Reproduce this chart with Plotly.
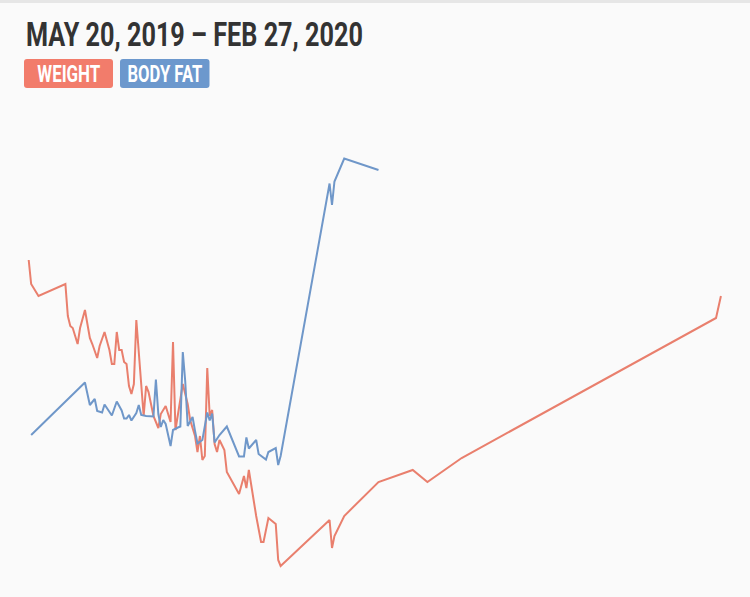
import pandas as pd
import plotly.graph_objects as go

START = "2019-05-20"
TITLE = "MAY 20, 2019 – FEB 27, 2020"
SERIES_NAMES = ["WEIGHT", "BODY FAT"]

# days since May 20, 2019
weight_days = [0, 1, 4, 15, 16, 17, 18, 20, 21, 23, 25, 26, 28, 29, 31, 33, 34, 35, 36, 37,
               38, 39, 40, 41, 42, 43, 44, 45, 47, 48, 49, 51, 53, 54, 56, 58, 59, 60, 61, 63,
               65, 66, 67, 68, 69, 70, 71, 72, 73, 74, 75, 76, 77, 78, 80, 81, 86, 88, 89, 90,
               93, 95, 96, 98, 101, 102, 103, 123, 124, 125, 129, 143, 157, 163, 177, 281, 283]
weight_lbs = [183.0, 181.8, 181.2, 181.8, 180.2, 179.7, 179.6, 178.8, 179.6, 180.5, 179.1, 178.8,
              178.1, 178.7, 179.4, 178.5, 177.8, 177.8, 179.4, 178.5, 178.5, 177.9, 177.8, 176.7,
              176.3, 176.8, 180.0, 178.4, 175.2, 176.7, 176.4, 175.2, 174.6, 175.3, 175.7, 174.9,
              178.9, 174.5, 175.2, 176.8, 175.8, 175.0, 174.6, 174.2, 173.4, 174.2, 173.0, 173.2,
              177.6, 175.2, 175.5, 173.8, 173.4, 174.0, 173.5, 172.4, 171.3, 172.2, 171.6, 172.5,
              170.2, 168.9, 168.9, 170.1, 169.8, 168.0, 167.7, 170.0, 168.6, 169.2, 170.2, 171.9,
              172.5, 171.9, 173.1, 180.1, 181.2]

bodyfat_days = [1, 23, 25, 27, 28, 30, 31, 34, 36, 38, 39, 40, 41, 42, 44, 45, 46, 48, 51, 52,
                53, 54, 55, 56, 58, 59, 61, 62, 63, 64, 65, 66, 67, 68, 69, 71, 73, 74, 75, 76,
                78, 81, 84, 86, 88, 89, 90, 93, 94, 97, 98, 101, 102, 103, 123, 124, 125, 129, 143]
bodyfat_pct = [16.46, 17.51, 17.06, 17.18, 16.94, 16.91, 17.07, 16.85, 17.13, 16.95, 16.79, 16.79,
               16.86, 16.75, 16.90, 17.06, 16.86, 16.84, 16.83, 17.57, 16.88, 16.62, 16.76, 16.68,
               16.24, 16.56, 16.61, 16.63, 18.12, 17.53, 16.64, 16.72, 16.82, 16.54, 16.29, 16.36,
               16.91, 16.75, 16.89, 16.31, 16.46, 16.63, 16.29, 16.03, 16.03, 16.41, 16.19, 16.36,
               16.08, 15.97, 16.12, 16.20, 15.86, 16.04, 21.49, 21.06, 21.53, 21.99, 21.76]

WEIGHT_LINE = "#e97f6d"
FAT_LINE = "#6f97c9"
WEIGHT_BADGE = "#f27c6b"
FAT_BADGE = "#6c98cd"
FONT = "Roboto, DejaVu Sans, sans-serif"

start = pd.Timestamp(START)
w_dates = start + pd.to_timedelta(weight_days, unit="D")
f_dates = start + pd.to_timedelta(bodyfat_days, unit="D")

W, H = 750, 597
fig = go.Figure()
fig.add_trace(go.Scatter(x=w_dates, y=weight_lbs, mode="lines", name=SERIES_NAMES[0],
                         line=dict(color=WEIGHT_LINE, width=2), hoverinfo="skip"))
fig.add_trace(go.Scatter(x=f_dates, y=bodyfat_pct, mode="lines", name=SERIES_NAMES[1],
                         yaxis="y2", line=dict(color=FAT_LINE, width=2), hoverinfo="skip"))

px_per_day = 2.446
x0 = start - pd.Timedelta(days=28.7 / px_per_day)
x1 = start + pd.Timedelta(days=(W - 28.7) / px_per_day)

fig.update_layout(
    width=W, height=H,
    margin=dict(l=0, r=0, t=0, b=0),
    paper_bgcolor="#fafafa", plot_bgcolor="#fafafa",
    showlegend=False,
    xaxis=dict(range=[x0, x1], visible=False, fixedrange=True),
    yaxis=dict(range=[166.15, 196.0], visible=False, fixedrange=True),
    yaxis2=dict(range=[13.22, 25.16], visible=False, overlaying="y", fixedrange=True),
)

def px(x):
    return x / W

def py(y):
    return 1 - y / H

shapes = [
    dict(type="rect", xref="paper", yref="paper", x0=0, x1=1, y0=py(3), y1=1,
         fillcolor="#e6e6e6", line=dict(width=0), layer="above"),
]

def rounded(xa, xb, ya, yb, r=3):
    rx, ry = r / W, r / H
    X0, X1, Y0, Y1 = px(xa), px(xb), py(yb), py(ya)
    return (f"M {X0+rx},{Y0} L {X1-rx},{Y0} Q {X1},{Y0} {X1},{Y0+ry} "
            f"L {X1},{Y1-ry} Q {X1},{Y1} {X1-rx},{Y1} L {X0+rx},{Y1} "
            f"Q {X0},{Y1} {X0},{Y1-ry} L {X0},{Y0+ry} Q {X0},{Y0} {X0+rx},{Y0} Z")

badges = [(24, 113, WEIGHT_BADGE, SERIES_NAMES[0]), (120, 209.5, FAT_BADGE, SERIES_NAMES[1])]
annotations = [
    dict(text=f"<b>{TITLE}</b>", xref="paper", yref="paper", x=px(24), y=py(34),
         xanchor="left", yanchor="middle", showarrow=False,
         font=dict(family=FONT, size=34, color="#333333")),
]
for xa, xb, col, label in badges:
    shapes.append(dict(type="path", xref="paper", yref="paper", path=rounded(xa, xb, 59, 88),
                       fillcolor=col, line=dict(width=0), layer="above"))
    annotations.append(dict(text=f"<b>{label}</b>", xref="paper", yref="paper",
                            x=px((xa + xb) / 2), y=py(74.5), xanchor="center", yanchor="middle",
                            showarrow=False,
                            font=dict(family=FONT, size=23, color="#ffffff")))

fig.update_layout(shapes=shapes, annotations=annotations)

# condense the text horizontally (the original uses a condensed typeface)
post = """
var gd = document.getElementById('{plot_id}');
document.body.style.margin = '0';
var targets = [[337, 'left'], [63, 'center'], [75, 'center']];
var els = gd.querySelectorAll('text.annotation-text');
els.forEach(function(el, i) {
  if (i >= targets.length) return;
  var bb = el.getBBox();
  var sx = targets[i][0] / bb.width;
  var cx = targets[i][1] === 'left' ? bb.x : bb.x + bb.width / 2;
  var prev = el.getAttribute('transform') || '';
  el.setAttribute('transform', prev + ' translate(' + cx + ',0) scale(' + sx + ',1) translate(' + (-cx) + ',0)');
});
"""

fig.write_html("out.html", config=dict(displayModeBar=False, staticPlot=True), post_script=post)
